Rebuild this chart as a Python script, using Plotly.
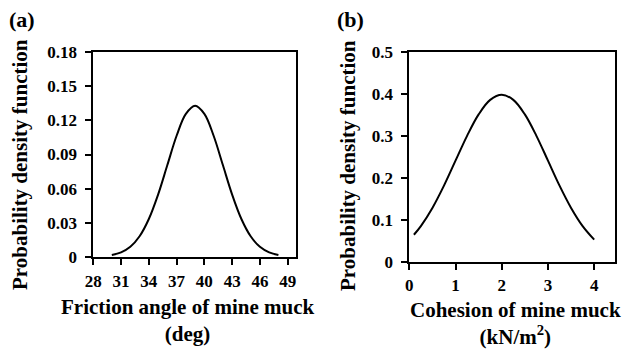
import plotly.graph_objects as go

W, H = 623, 349

# Panel (a): friction angle of mine muck (deg)
phi_x = [30, 31, 32, 33, 34, 35, 36, 37, 38, 39, 40, 41, 42, 43, 44, 45, 46, 47, 48]
phi_y = [0.0015, 0.0038, 0.0087, 0.0180, 0.0332, 0.0547, 0.0807, 0.1065, 0.1258, 0.1330,
         0.1258, 0.1065, 0.0807, 0.0547, 0.0332, 0.0180, 0.0087, 0.0038, 0.0015]
phi_xticks = [28, 31, 34, 37, 40, 43, 46, 49]
phi_yticks = [0, 0.03, 0.06, 0.09, 0.12, 0.15, 0.18]
phi_ylabels = ["0", "0.03", "0.06", "0.09", "0.12", "0.15", "0.18"]

# Panel (b): cohesion of mine muck (kN/m2)
c_x = [0.1, 0.25, 0.5, 0.75, 1.0, 1.25, 1.5, 1.75, 2.0, 2.25, 2.5, 2.75, 3.0, 3.25, 3.5, 3.75, 4.0]
c_y = [0.0656, 0.0863, 0.1295, 0.1826, 0.2420, 0.3011, 0.3521, 0.3867, 0.3989,
       0.3867, 0.3521, 0.3011, 0.2420, 0.1826, 0.1295, 0.0863, 0.0540]
c_xticks = [0, 1, 2, 3, 4]
c_yticks = [0, 0.1, 0.2, 0.3, 0.4, 0.5]
c_ylabels = ["0", "0.1", "0.2", "0.3", "0.4", "0.5"]

FONT = "Liberation Serif"

def px(x):
    return x / W

def py(y):
    return 1 - y / H

def b(s):
    return "<b>" + str(s) + "</b>"

fig = go.Figure()
fig.add_trace(go.Scatter(x=phi_x, y=phi_y, mode="lines", line=dict(color="black", width=2, shape="spline"),
                         xaxis="x", yaxis="y", showlegend=False))
fig.add_trace(go.Scatter(x=c_x, y=c_y, mode="lines", line=dict(color="black", width=2, shape="spline"),
                         xaxis="x2", yaxis="y2", showlegend=False))

tickfont = dict(family=FONT, size=17, color="black")
common = dict(showline=True, linecolor="black", linewidth=2, mirror=True, ticks="outside",
              ticklen=6, tickwidth=2, tickcolor="black", showgrid=False, zeroline=False,
              tickfont=tickfont, automargin=False)

fig.update_layout(
    width=W, height=H,
    margin=dict(l=0, r=0, t=0, b=0),
    paper_bgcolor="white", plot_bgcolor="white",
    font=dict(family=FONT, color="black"),
    xaxis=dict(domain=[px(93.3), px(296)], range=[28, 49.9], tickvals=phi_xticks,
               ticktext=[b(v) for v in phi_xticks], anchor="y", ticklabelstandoff=2, **common),
    yaxis=dict(domain=[py(256.7), py(52.3)], range=[0, 0.18], tickvals=phi_yticks,
               ticktext=[b(v) for v in phi_ylabels], anchor="x", ticklabelstandoff=5, **common),
    xaxis2=dict(domain=[px(409.3), px(615)], range=[0, 4.45], tickvals=c_xticks,
                ticktext=[b(v) for v in c_xticks], anchor="y2", ticklabelstandoff=0, **common),
    yaxis2=dict(domain=[py(262.3), py(52.3)], range=[0, 0.5], tickvals=c_yticks,
                ticktext=[b(v) for v in c_ylabels], anchor="x2", ticklabelstandoff=5, **common),
)

tfont = dict(family=FONT, size=21, color="black")
lfont = dict(family=FONT, size=22, color="black")

def ann(text, x, y, font, angle=0, xanchor="center", yanchor="middle"):
    fig.add_annotation(text=text, x=px(x), y=py(y), xref="paper", yref="paper", showarrow=False,
                       xanchor=xanchor, yanchor=yanchor, font=font, textangle=angle)

ann(b("(a)"), 7, 19, lfont, xanchor="left")
ann(b("(b)"), 335, 19, lfont, xanchor="left")
ann(b("Probability density function"), 20, 165, tfont, angle=-90)
ann(b("Probability density function"), 348, 165, tfont, angle=-90)
ann(b("Friction angle of mine muck") + "<br>" + b("(deg)"), 188, 320, tfont)
ann(b("Cohesion of mine muck") + "<br>" + b("(kN/m<sup>2</sup>)"), 515, 323, tfont)

fig.write_html("out.html")
